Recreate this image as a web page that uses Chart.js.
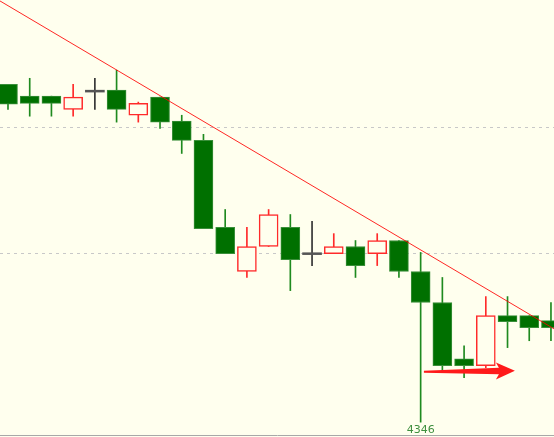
<!DOCTYPE html>
<html>
<head>
<meta charset="utf-8">
<script src="https://cdn.jsdelivr.net/npm/chart.js@4/dist/chart.umd.min.js"></script>
<style>
    html, body { margin: 0; padding: 0; background: #ffffee; }
    canvas { display: block; }
</style>
</head>
<body>
<canvas id="kline" width="554" height="437"></canvas>
<script>
// candle values, left to right
const candleOpen  = [4453.9, 4450.1, 4450.1, 4445.9, 4451.7, 4452.0, 4444.0, 4449.8, 4442.1, 4436.0, 4408.2, 4394.1, 4402.1, 4408.2, 4399.8, 4399.8, 4402.1, 4399.8, 4404.0, 4394.1, 4384.2, 4366.2, 4364.0, 4380.0, 4380.0, 4378.4];
const candleHigh  = [4453.9, 4455.8, 4450.1, 4453.9, 4455.8, 4458.4, 4448.2, 4449.8, 4444.0, 4437.9, 4413.9, 4408.2, 4413.9, 4412.3, 4410.1, 4406.2, 4404.0, 4406.2, 4404.0, 4400.2, 4392.2, 4370.4, 4386.1, 4386.1, 4380.0, 4384.2];
const candleLow   = [4445.9, 4443.7, 4443.7, 4443.7, 4445.9, 4441.8, 4441.8, 4439.8, 4431.8, 4407.8, 4399.8, 4392.2, 4402.1, 4388.0, 4396.0, 4399.8, 4392.2, 4396.0, 4392.2, 4346.0, 4362.4, 4360.2, 4363.4, 4369.8, 4372.0, 4372.0];
const candleClose = [4447.5, 4447.8, 4447.8, 4449.8, 4451.7, 4445.9, 4447.8, 4441.8, 4436.0, 4407.8, 4399.8, 4402.1, 4412.3, 4397.9, 4399.8, 4402.1, 4396.0, 4404.0, 4394.1, 4384.2, 4364.0, 4364.0, 4380.0, 4378.1, 4376.2, 4376.2];

const gridLevels = [4440, 4400];
const trendLine = [{ x: -0.37, y: 4480.5 }, { x: 25.14, y: 4375.8 }];
const arrowFrom = { x: 19.15, y: 4362.1 };
const arrowTo = { x: 23.34, y: 4362.4 };

const UP = "#ff2a2a";
const DOWN = "#007000";
const FLAT = "#333333";
const BG = "#ffffee";

function kind(i) {
    if (candleClose[i] > candleOpen[i]) return "up";
    if (candleClose[i] < candleOpen[i]) return "down";
    return "flat";
}

const idx = candleOpen.map((_, i) => i);

const bodies = idx.map((i) => {
    if (kind(i) === "flat") return { x: i, y: [candleOpen[i] - 0.3, candleClose[i] + 0.3] };
    return { x: i, y: [candleOpen[i], candleClose[i]] };
});
const wicks = idx.map((i) => ({ x: i, y: [candleLow[i], candleHigh[i]] }));

// lowest low gets its price written under it
let lowIdx = 0;
candleLow.forEach((v, i) => { if (v < candleLow[lowIdx]) lowIdx = i; });

const marks = {
    id: "marks",
    beforeDraw(chart) {
        const c = chart.ctx;
        c.save();
        c.fillStyle = BG;
        c.fillRect(0, 0, chart.width, chart.height);
        c.restore();
    },
    afterDatasetsDraw(chart) {
        const c = chart.ctx;
        const xs = chart.scales.x;
        const ys = chart.scales.y;

        // arrow under the last candles
        const x0 = xs.getPixelForValue(arrowFrom.x);
        const y0 = ys.getPixelForValue(arrowFrom.y);
        const x1 = xs.getPixelForValue(arrowTo.x);
        const y1 = ys.getPixelForValue(arrowTo.y);
        const headLen = 16;
        const xh = x1 - headLen;
        const yh = y0 + (y1 - y0) * (xh - x0) / (x1 - x0);
        c.save();
        c.fillStyle = "#ff1a1a";
        c.beginPath();
        c.moveTo(x0, y0 - 1);
        c.lineTo(xh, yh - 3.2);
        c.lineTo(xh - 3, yh - 8.5);
        c.lineTo(x1, y1);
        c.lineTo(xh - 3, yh + 8.5);
        c.lineTo(xh, yh + 3.2);
        c.lineTo(x0, y0 + 1);
        c.closePath();
        c.fill();

        // low price label
        c.fillStyle = "#3f8f3f";
        c.font = "11px 'DejaVu Sans', sans-serif";
        c.textAlign = "center";
        c.textBaseline = "alphabetic";
        c.fillText(String(Math.round(candleLow[lowIdx])),
            xs.getPixelForValue(lowIdx), ys.getPixelForValue(candleLow[lowIdx]) + 11);
        c.restore();
    },
};

new Chart(document.getElementById("kline"), {
    type: "bar",
    data: {
        datasets: [
            {
                type: "line",
                data: trendLine,
                borderColor: "rgba(255,0,0,0.85)",
                borderWidth: 1,
                pointRadius: 0,
                tension: 0,
            },
            {
                data: bodies,
                grouped: false,
                barThickness: 19,
                borderSkipped: false,
                borderWidth: idx.map((i) => (kind(i) === "up" ? 1.5 : kind(i) === "down" ? 1 : 0)),
                backgroundColor: idx.map((i) => (kind(i) === "up" ? BG : kind(i) === "down" ? DOWN : "#555555")),
                borderColor: idx.map((i) => (kind(i) === "up" ? UP : kind(i) === "down" ? "#3a8f3a" : "#555555")),
            },
            {
                data: wicks,
                grouped: false,
                barThickness: 1,
                borderWidth: 0,
                backgroundColor: idx.map((i) => (kind(i) === "up" ? UP : kind(i) === "down" ? "#1f8a1f" : FLAT)),
            },
        ],
    },
    options: {
        responsive: false,
        animation: false,
        layout: { padding: { left: 0, right: 0, top: 0, bottom: 2 } },
        plugins: { legend: { display: false }, tooltip: { enabled: false } },
        scales: {
            x: {
                type: "linear",
                offset: false,
                min: -0.368,
                max: 25.14,
                ticks: { display: false },
                grid: { display: false, drawTicks: false },
                border: { display: true, color: "#a8a8a8" },
            },
            y: {
                min: 4341.9,
                max: 4480.8,
                afterBuildTicks: (scale) => {
                    scale.ticks = gridLevels.map((v) => ({ value: v }));
                },
                ticks: { display: false },
                grid: { color: "#c8c8c8", drawTicks: false, lineWidth: 1 },
                border: { display: false, dash: [3, 4] },
            },
        },
    },
    plugins: [marks],
});
</script>
</body>
</html>
